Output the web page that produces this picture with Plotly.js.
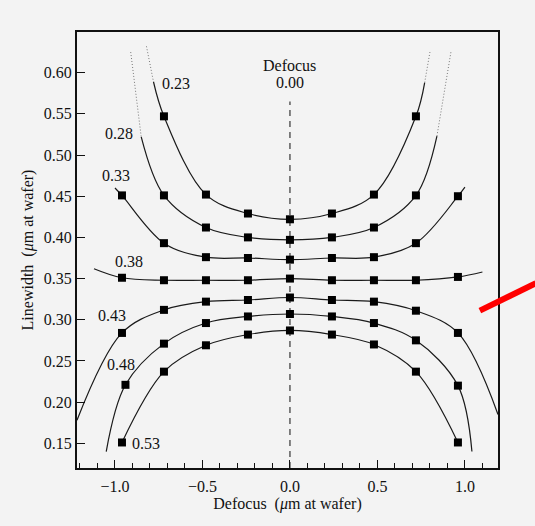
<!DOCTYPE html>
<html>
<head>
<meta charset="utf-8">
<script src="https://cdn.plot.ly/plotly-3.0.1.min.js"></script>
<style>
html,body{margin:0;padding:0;background:#f3f3f3;}
#chart{width:535px;height:526px;}
</style>
</head>
<body>
<div id="chart"></div>
<script>
// Marker defocus positions (µm at wafer)
const defocusPts = [-0.96, -0.72, -0.48, -0.24, 0.0, 0.24, 0.48, 0.72, 0.96];
const defocusInner = [-0.72, -0.48, -0.24, 0.0, 0.24, 0.48, 0.72];
const defocus48 = [-0.94, -0.72, -0.48, -0.24, 0.0, 0.24, 0.48, 0.72, 0.96];

// Measured linewidths at markers for each curve
const lw023 = [0.547, 0.452, 0.429, 0.422, 0.429, 0.452, 0.547];
const lw028 = [0.451, 0.412, 0.400, 0.397, 0.400, 0.412, 0.451];
const lw033 = [0.451, 0.393, 0.376, 0.375, 0.373, 0.375, 0.376, 0.393, 0.450];
const lw038 = [0.351, 0.348, 0.348, 0.348, 0.350, 0.348, 0.348, 0.348, 0.352];
const lw043 = [0.284, 0.312, 0.322, 0.324, 0.327, 0.324, 0.322, 0.311, 0.284];
const lw048 = [0.221, 0.271, 0.296, 0.304, 0.307, 0.304, 0.296, 0.275, 0.220];
const lw053 = [0.151, 0.237, 0.269, 0.282, 0.287, 0.282, 0.270, 0.237, 0.151];

// Curve paths (fitted curves)
const c023x = [-0.78, -0.72, -0.48, -0.24, 0.0, 0.24, 0.48, 0.72, 0.77];
const c023y = [0.589, 0.547, 0.452, 0.429, 0.422, 0.429, 0.452, 0.547, 0.588];
const d023Lx = [-0.82, -0.78], d023Ly = [0.632, 0.589];
const d023Rx = [0.77, 0.80], d023Ry = [0.588, 0.625];

const c028x = [-0.85, -0.72, -0.48, -0.24, 0.0, 0.24, 0.48, 0.72, 0.84];
const c028y = [0.522, 0.451, 0.412, 0.400, 0.397, 0.400, 0.412, 0.451, 0.523];
const d028Lx = [-0.91, -0.85], d028Ly = [0.625, 0.522];
const d028Rx = [0.84, 0.92], d028Ry = [0.523, 0.625];

const c033x = [-1.0, -0.96, -0.72, -0.48, -0.24, 0.0, 0.24, 0.48, 0.72, 0.96, 1.0];
const c033y = [0.460, 0.451, 0.393, 0.376, 0.375, 0.373, 0.375, 0.376, 0.393, 0.450, 0.461];

const c038x = [-1.12, -0.96, -0.72, -0.48, -0.24, 0.0, 0.24, 0.48, 0.72, 0.96, 1.10];
const c038y = [0.362, 0.351, 0.348, 0.348, 0.348, 0.350, 0.348, 0.348, 0.348, 0.352, 0.358];

const c043x = [-1.217, -0.96, -0.72, -0.48, -0.24, 0.0, 0.24, 0.48, 0.72, 0.96, 1.189];
const c043y = [0.178, 0.284, 0.312, 0.322, 0.324, 0.327, 0.324, 0.322, 0.311, 0.284, 0.185];

const c048x = [-1.05, -0.94, -0.72, -0.48, -0.24, 0.0, 0.24, 0.48, 0.72, 0.96, 1.04];
const c048y = [0.140, 0.221, 0.271, 0.296, 0.304, 0.307, 0.304, 0.296, 0.275, 0.220, 0.140];

const c053x = defocusPts;
const c053y = lw053;

// Curve labels
const labelText = ['0.23', '0.28', '0.33', '0.38', '0.43', '0.48', '0.53'];
const labelX = [-0.65, -0.975, -0.993, -0.92, -1.015, -0.967, -0.824];
const labelY = [0.587, 0.526, 0.475, 0.371, 0.305, 0.246, 0.150];

// Zero-defocus reference line
const zeroX = [0, 0];
const zeroY = [0.120, 0.565];

const xTicks = [-1.0, -0.5, 0.0, 0.5, 1.0];
const yTicks = [0.15, 0.20, 0.25, 0.30, 0.35, 0.40, 0.45, 0.50, 0.55, 0.60];

const lineStyle = {color: '#1a1a1a', width: 1.2, shape: 'spline', smoothing: 1};
const dotStyle = {color: '#777', width: 1, dash: '1px,2px', shape: 'linear'};
const mk = {symbol: 'square', size: 8, color: '#000'};

function line(x, y) { return {x, y, mode: 'lines', line: lineStyle, hoverinfo: 'skip', showlegend: false}; }
function dots(x, y) { return {x, y, mode: 'lines', line: dotStyle, hoverinfo: 'skip', showlegend: false}; }
function pts(x, y) { return {x, y, mode: 'markers', marker: mk, hoverinfo: 'skip', showlegend: false, cliponaxis: false}; }

const traces = [
  {x: zeroX, y: zeroY, mode: 'lines', line: {color: '#444', width: 1.3, dash: '6px,5px'}, showlegend: false, hoverinfo: 'skip'},
  line(c023x, c023y), dots(d023Lx, d023Ly), dots(d023Rx, d023Ry),
  line(c028x, c028y), dots(d028Lx, d028Ly), dots(d028Rx, d028Ry),
  line(c033x, c033y), line(c038x, c038y), line(c043x, c043y), line(c048x, c048y), line(c053x, c053y),
  pts(defocusInner, lw023), pts(defocusInner, lw028), pts(defocusPts, lw033),
  pts(defocusPts, lw038), pts(defocusPts, lw043), pts(defocus48, lw048), pts(defocusPts, lw053)
];

const serif = 'Liberation Serif, Times New Roman, serif';
const fs = 16;
const annotations = labelText.map((t, i) => ({
  x: labelX[i], y: labelY[i], text: t, showarrow: false,
  font: {family: serif, size: fs, color: '#111'}, xanchor: 'center', yanchor: 'middle'
}));
annotations.push({x: 0, y: 0.609, text: 'Defocus', showarrow: false, font: {family: serif, size: fs, color: '#111'}});
annotations.push({x: 0, y: 0.588, text: '0.00', showarrow: false, font: {family: serif, size: fs, color: '#111'}});

const layout = {
  width: 535, height: 526,
  paper_bgcolor: '#f3f3f3', plot_bgcolor: '#f3f3f3',
  margin: {l: 77, r: 37, t: 32, b: 58},
  font: {family: serif, size: fs, color: '#111'},
  xaxis: {
    range: [-1.217, 1.189], tickvals: xTicks, tickformat: '.1f',
    ticks: 'inside', ticklen: 8, tickwidth: 1, tickcolor: '#111',
    minor: {dtick: 0.1, ticks: 'inside', ticklen: 5, tickwidth: 1, tickcolor: '#111', showgrid: false},
    showgrid: false, zeroline: false, showline: true, linecolor: '#111', linewidth: 2, mirror: true,
    tickfont: {family: serif, size: fs}, ticklabelstandoff: 3,
    title: {text: 'Defocus  (<i>μ</i>m at wafer)', font: {family: serif, size: fs}, standoff: 4}
  },
  yaxis: {
    range: [0.120, 0.6494], tickvals: yTicks, tickformat: '.2f',
    ticks: 'inside', ticklen: 8, tickwidth: 1, tickcolor: '#111',
    showgrid: false, zeroline: false, showline: true, linecolor: '#111', linewidth: 2, mirror: true,
    tickfont: {family: serif, size: fs},
    title: {text: 'Linewidth  (<i>μ</i>m at wafer)', font: {family: serif, size: fs}, standoff: 6}
  },
  annotations: annotations,
  shapes: [{
    type: 'line', xref: 'paper', yref: 'paper',
    x0: 0.957, y0: 0.361, x1: 1.09, y1: 0.424,
    line: {color: '#ff0000', width: 6}
  }]
};

Plotly.newPlot('chart', traces, layout, {displayModeBar: false, staticPlot: true});
</script>
</body>
</html>
